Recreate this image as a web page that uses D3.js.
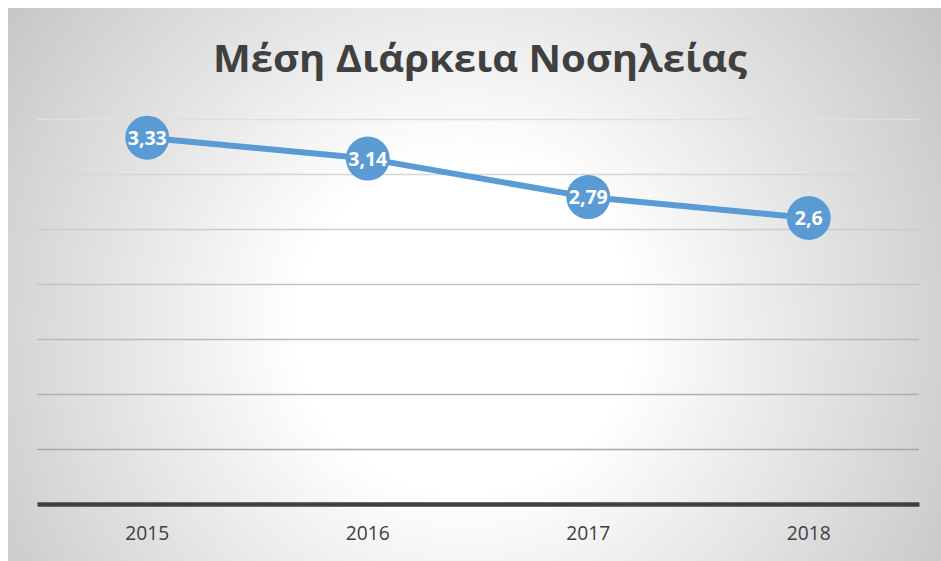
<!DOCTYPE html>
<html><head><meta charset="utf-8">
<script src="https://cdn.jsdelivr.net/npm/d3@7"></script>
<style>body{margin:0;background:#fff;}svg{display:block;}</style>
</head><body>
<svg id="chart" width="941" height="561"></svg>
<script>
const title = "Μέση Διάρκεια Νοσηλείας";
const years = ["2015", "2016", "2017", "2018"];
const values = [3.33, 3.14, 2.79, 2.6];
const valueLabels = ["3,33", "3,14", "2,79", "2,6"];
const yTicks = [0, 0.5, 1, 1.5, 2, 2.5, 3, 3.5];

const svg = d3.select("#chart");
const W = 941, H = 561;
const defs = svg.append("defs");
const bg = defs.append("radialGradient").attr("id", "bg")
  .attr("gradientUnits", "userSpaceOnUse")
  .attr("cx", 465).attr("cy", 325).attr("r", 600);
bg.append("stop").attr("offset", "0").attr("stop-color", "#ffffff");
bg.append("stop").attr("offset", "0.28").attr("stop-color", "#ffffff");
bg.append("stop").attr("offset", "1").attr("stop-color", "#c0c0c0");

const gl = defs.append("linearGradient").attr("id", "gl")
  .attr("gradientUnits", "userSpaceOnUse")
  .attr("x1", 0).attr("y1", 115).attr("x2", 0).attr("y2", 455);
gl.append("stop").attr("offset", "0").attr("stop-color", "#e0e0e0");
gl.append("stop").attr("offset", "1").attr("stop-color", "#a6a6a6");

svg.append("rect").attr("x", 8).attr("y", 8).attr("width", W - 8).attr("height", H - 8)
  .attr("fill", "url(#bg)");

const x = d3.scaleBand().domain(years).range([37, 919]);
const y = d3.scaleLinear().domain([0, 3.5]).range([504, 119]);

// gridlines
svg.append("g").selectAll("line").data(yTicks.filter(d => d > 0)).join("line")
  .attr("x1", 37).attr("x2", 919)
  .attr("y1", d => Math.round(y(d)) + 0.5).attr("y2", d => Math.round(y(d)) + 0.5)
  .attr("stroke", "url(#gl)").attr("stroke-width", 1.3);

// x axis
const xAxis = svg.append("g").attr("transform", `translate(0,${y(0)})`)
  .call(d3.axisBottom(x).tickSize(0).tickPadding(22));
xAxis.select(".domain").attr("stroke", "#404040").attr("stroke-width", 4.5);
xAxis.selectAll("text").attr("font-family", "'Open Sans', sans-serif")
  .attr("font-size", 20).attr("fill", "#404040")
  .attr("textLength", 44).attr("lengthAdjust", "spacingAndGlyphs");

// line
const line = d3.line().x((d, i) => x(years[i]) + x.bandwidth() / 2).y(d => y(d));
svg.append("path").datum(values).attr("d", line)
  .attr("fill", "none").attr("stroke", "#5b9bd5").attr("stroke-width", 6)
  .attr("stroke-linejoin", "round");

const pts = svg.append("g").selectAll("g").data(values).join("g")
  .attr("transform", (d, i) => `translate(${x(years[i]) + x.bandwidth() / 2},${y(d)})`);
pts.append("circle").attr("r", 22).attr("fill", "#5b9bd5");
pts.append("text").text((d, i) => valueLabels[i])
  .attr("text-anchor", "middle").attr("dy", "0.36em")
  .attr("font-family", "'Open Sans', sans-serif").attr("font-weight", "bold")
  .attr("font-size", 19.5).attr("fill", "#ffffff");

// title
const t = svg.append("text").text(title)
  .attr("x", 480).attr("y", 72).attr("text-anchor", "middle")
  .attr("font-family", "'Open Sans', sans-serif").attr("font-weight", "bold")
  .attr("font-size", 38).attr("fill", "#404040")
  .attr("textLength", 534).attr("lengthAdjust", "spacingAndGlyphs");
</script>
</body></html>
